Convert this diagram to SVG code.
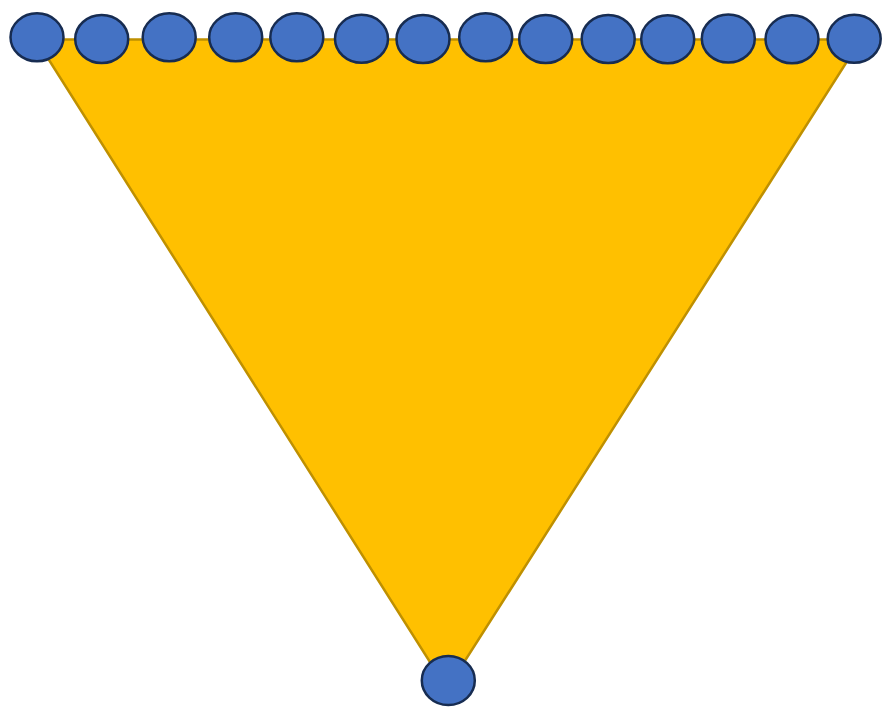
<svg xmlns="http://www.w3.org/2000/svg" width="882" height="707" viewBox="0 0 882 707">
<style>
.n{fill:#4472C4;stroke:#172C51;stroke-width:2.5}
.t{fill:#FFC000;stroke:#BF9000;stroke-width:2.5;stroke-linejoin:miter}
</style>
<rect width="882" height="707" fill="#FFFFFF"/>
<g id="connectors">
<polygon class="t" points="36,39.5 861,39.5 447,689"/>
</g>
<g id="n1"><ellipse class="n" cx="37" cy="37.3" rx="26.5" ry="24"/></g>
<g id="n2"><ellipse class="n" cx="101.7" cy="39" rx="26.5" ry="24"/></g>
<g id="n3"><ellipse class="n" cx="169.2" cy="37.3" rx="26.5" ry="24"/></g>
<g id="n4"><ellipse class="n" cx="235.7" cy="37.3" rx="26.5" ry="24"/></g>
<g id="n5"><ellipse class="n" cx="296.8" cy="37.3" rx="26.5" ry="24"/></g>
<g id="n6"><ellipse class="n" cx="361.5" cy="38.8" rx="26.5" ry="24"/></g>
<g id="n7"><ellipse class="n" cx="423" cy="39" rx="26.5" ry="24"/></g>
<g id="n8"><ellipse class="n" cx="485.7" cy="37.3" rx="26.5" ry="24"/></g>
<g id="n9"><ellipse class="n" cx="545.7" cy="39" rx="26.5" ry="24"/></g>
<g id="n10"><ellipse class="n" cx="608.2" cy="39" rx="26.5" ry="24"/></g>
<g id="n11"><ellipse class="n" cx="667.7" cy="39.3" rx="26.5" ry="24"/></g>
<g id="n12"><ellipse class="n" cx="728.3" cy="38.5" rx="26.5" ry="24"/></g>
<g id="n13"><ellipse class="n" cx="792" cy="39.3" rx="26.5" ry="24"/></g>
<g id="n14"><ellipse class="n" cx="854.2" cy="38.8" rx="26.5" ry="24"/></g>
<g id="n15"><ellipse class="n" cx="448.3" cy="680.5" rx="26.5" ry="24.5"/></g>
</svg>
